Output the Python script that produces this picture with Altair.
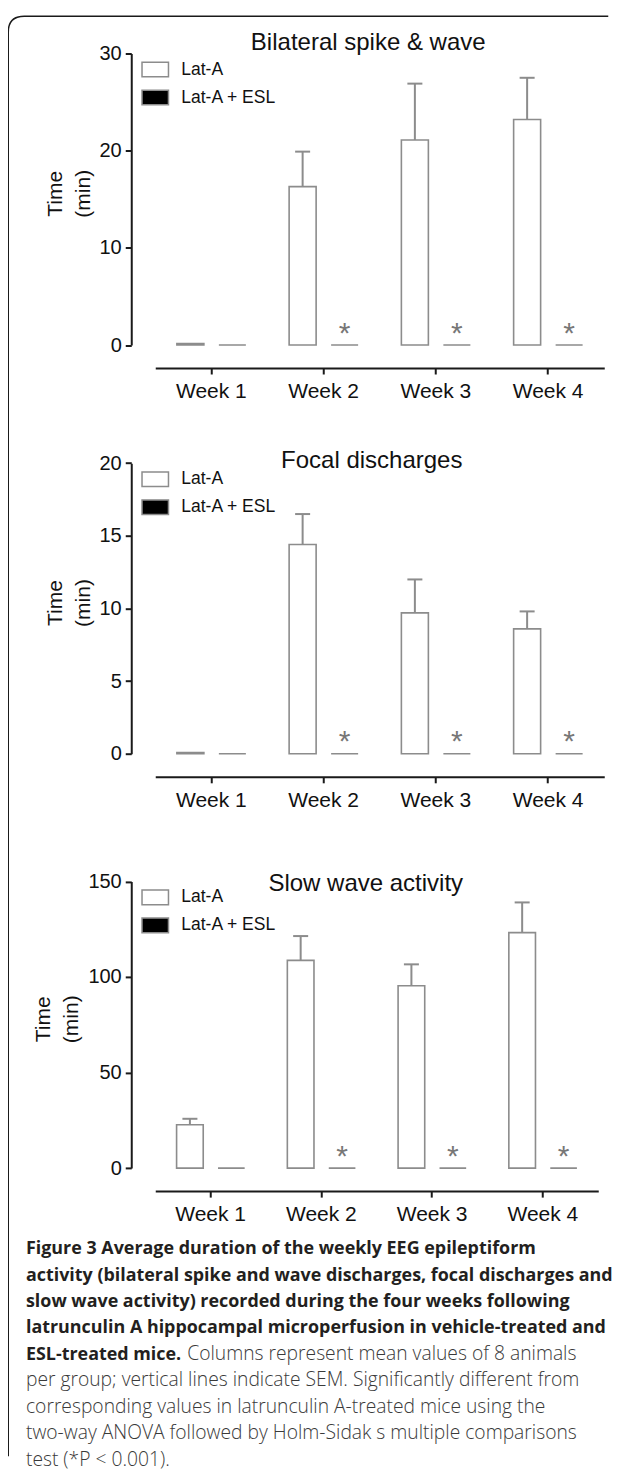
import altair as alt
import pandas as pd

weeks = ["Week 1", "Week 2", "Week 3", "Week 4"]
groups = ["Lat-A", "Lat-A + ESL"]
stars = ["", "*", "*", "*"]

# Bilateral spike & wave (min)
bsw_lata = [0.15, 16.3, 21.1, 23.2]
bsw_lata_sem = [0.0, 3.6, 5.8, 4.3]
bsw_esl = [0.0, 0.0, 0.0, 0.0]

# Focal discharges (min)
fd_lata = [0.08, 14.4, 9.7, 8.6]
fd_lata_sem = [0.0, 2.1, 2.3, 1.2]
fd_esl = [0.0, 0.0, 0.0, 0.0]

# Slow wave activity (min)
swa_lata = [22.7, 108.7, 95.4, 123.2]
swa_lata_sem = [3.1, 12.7, 11.2, 15.8]
swa_esl = [0.0, 0.0, 0.0, 0.0]

cap_bold = [
    "Figure 3 Average duration of the weekly EEG epileptiform",
    "activity (bilateral spike and wave discharges, focal discharges and",
    "slow wave activity) recorded during the four weeks following",
    "latrunculin A hippocampal microperfusion in vehicle-treated and",
    "ESL-treated mice.",
]
cap_tail = "Columns represent mean values of 8 animals"
cap_reg = [
    "per group; vertical lines indicate SEM. Significantly different from",
    "corresponding values in latrunculin A-treated mice using the",
    "two-way ANOVA followed by Holm-Sidak s multiple comparisons",
    "test (*P < 0.001).",
]

FONT = "Liberation Sans"
AX = "#1a1a1a"
GR = "#8c8c8c"


def make_df(lata, lata_sem, esl):
    rows = []
    for i, w in enumerate(weeks):
        rows.append(dict(week=w, group=groups[0], value=lata[i], sem=lata_sem[i],
                         top=lata[i] + lata_sem[i], star=""))
        rows.append(dict(week=w, group=groups[1], value=esl[i], sem=0.0,
                         top=esl[i], star=stars[i]))
    return pd.DataFrame(rows)


def panel(df, title, ymax, yticks, w, H, h, tdx, toff):
    top_gap = H - h
    xenc = alt.X("week:N", sort=weeks, scale=alt.Scale(paddingInner=0, paddingOuter=0),
                 axis=alt.Axis(title=None, labelAngle=0, offset=23, domainColor=AX, domainWidth=2,
                               tickColor=AX, tickWidth=2, tickSize=6, labelFont=FONT,
                               labelFontSize=21, labelColor="#111", labelPadding=6.5, grid=False))
    xoff = alt.XOffset("group:N", sort=groups,
                       scale=alt.Scale(paddingInner=0.357, paddingOuter=0.515))
    yscale = alt.Scale(domain=[0, ymax], nice=False, range=[H, top_gap])
    yaxis = alt.Axis(values=yticks, offset=24, grid=False, domainColor=AX, domainWidth=2,
                     tickColor=AX, tickWidth=2, tickSize=6, labelFont=FONT, labelFontSize=20,
                     labelColor="#111", labelPadding=4, title=["Time", "(min)"], titleFont=FONT,
                     titleFontSize=21, titleFontWeight="normal", titleColor="#111",
                     titlePadding=6, titleLineHeight=28, titleY=top_gap + h / 2 - 6)

    def Y(f):
        return alt.Y(f, type="quantitative", scale=yscale, axis=yaxis)

    base = alt.Chart(df)
    bars = base.mark_bar(stroke=GR, strokeWidth=1.6).encode(
        x=xenc, xOffset=xoff, y=Y("value"),
        fill=alt.Fill("group:N", sort=groups,
                      scale=alt.Scale(domain=groups, range=["#ffffff", "#000000"]),
                      legend=alt.Legend(title=None, orient="none", legendX=-14,
                                        legendY=top_gap + 2,
                                        symbolType="M-1,-0.55H1V0.55H-1Z", symbolSize=700,
                                        symbolStrokeColor=GR, symbolStrokeWidth=1.5,
                                        symbolOpacity=1, labelFont=FONT, labelFontSize=17.5,
                                        labelColor="#111", labelOffset=12, rowPadding=3)))
    err = base.transform_filter("datum.sem > 0").mark_rule(color=GR, strokeWidth=2).encode(
        x=xenc, xOffset=xoff, y=Y("value"), y2="top:Q")
    capm = base.transform_filter("datum.sem > 0").mark_tick(
        color=GR, thickness=2, size=15, opacity=1).encode(x=xenc, xOffset=xoff, y=Y("top"))
    star = base.transform_filter("datum.star != ''").mark_text(
        text="*", font=FONT, fontSize=30, color="#777", baseline="alphabetic", dy=-2.5).encode(
        x=xenc, xOffset=xoff, y=Y("value"))
    return alt.layer(bars, err, capm, star).properties(
        width=w, height=H,
        title=alt.TitleParams(title, font=FONT, fontSize=24, fontWeight="normal", color="#111",
                              anchor="middle", frame="group", offset=toff, dx=tdx,
                              baseline="alphabetic"))


SP = 85.2
p1 = panel(make_df(bsw_lata, bsw_lata_sem, bsw_esl), "Bilateral spike & wave", 30,
           [0, 10, 20, 30], 449, 291.5, 291.5, -11.5, -30)
p2 = panel(make_df(fd_lata, fd_lata_sem, fd_esl), "Focal discharges", 20,
           [0, 5, 10, 15, 20], 449, 753.3 - (345 + SP), 290.6, -8, -61.3)
p3 = panel(make_df(swa_lata, swa_lata_sem, swa_esl), "Slow wave activity", 150,
           [0, 50, 100, 150], 443, 1166.7 - (753.3 + SP), 286.7, -11, -75)

# caption
bold_df = pd.DataFrame({"line": list(range(len(cap_bold))), "text": cap_bold})
tail_df = pd.DataFrame({"line": [len(cap_bold) - 1], "text": [cap_tail]})
reg_df = pd.DataFrame({"line": list(range(len(cap_bold), len(cap_bold) + len(cap_reg))),
                       "text": cap_reg})
cy = alt.Y("line:Q", scale=alt.Scale(domain=[0, 8], range=[0, 211.5]), axis=None)
CX = -129.3
cb = alt.Chart(bold_df).mark_text(align="left", baseline="alphabetic", font="Open Sans",
                                  fontSize=17.9, fontWeight="bold", color="#231f20").encode(
    x=alt.value(CX), y=cy, text="text:N")
ct = alt.Chart(tail_df).mark_text(align="left", baseline="alphabetic", font="Open Sans",
                                  fontSize=19.25, fontWeight=300, color="#3a3a3a").encode(
    x=alt.value(CX + 161.3), y=cy, text="text:N")
cr = alt.Chart(reg_df).mark_text(align="left", baseline="alphabetic", font="Open Sans",
                                 fontSize=19.25, fontWeight=300, color="#3a3a3a").encode(
    x=alt.value(CX), y=cy, text="text:N")
# figure frame: left and top edges with a rounded corner (open towards right/bottom)
frame = alt.Chart(pd.DataFrame({"a": [0]})).mark_point(
    shape="M0,1440L0,16Q0,0 16,0L600,0", size=4, filled=False, color=AX,
    strokeWidth=1.5, opacity=1).encode(x=alt.value(-147), y=alt.value(-1237.9))
caption = alt.layer(frame, cb, ct, cr).properties(width=449, height=212)

chart = alt.vconcat(p1, p2, p3, caption, spacing=SP, bounds="flush").resolve_scale(
    fill="independent", xOffset="independent").resolve_legend(fill="independent").properties(
    padding={"left": -2.75, "top": 4.5, "right": 0, "bottom": 0}).configure_view(stroke=None)

chart.save("out.html", embed_options={"renderer": "svg", "actions": False})
